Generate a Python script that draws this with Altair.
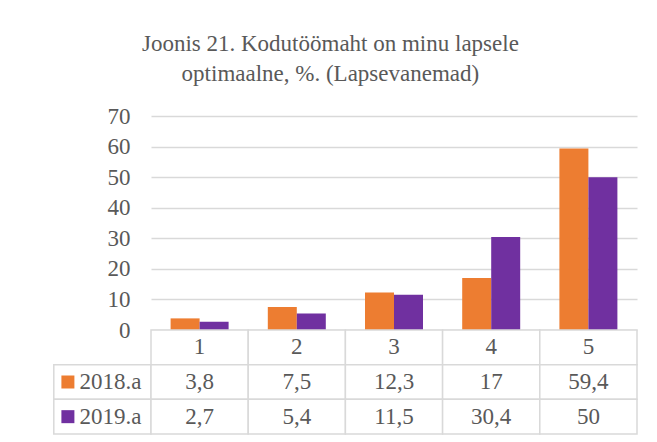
import altair as alt
import pandas as pd

# ---- data ----
categories = ["1", "2", "3", "4", "5"]
series = ["2018.a", "2019.a"]
values_2018 = [3.8, 7.5, 12.3, 17, 59.4]
values_2019 = [2.7, 5.4, 11.5, 30.4, 50]
y_ticks = [0, 10, 20, 30, 40, 50, 60, 70]
colors = ["#ED7D31", "#7030A0"]
title_lines = ["Joonis 21. Kodutöömaht on minu lapsele", "optimaalne, %. (Lapsevanemad)"]

FONT = "Times New Roman, Liberation Serif, DejaVu Serif, serif"
TEXT = "#595959"
GRID = "#d9d9d9"
FS = 23

W, H, TH = 486, 214, 104


def fmt(v):
    return f"{v:g}".replace(".", ",")


bar_rows = []
for s, vals in zip(series, [values_2018, values_2019]):
    for c, v in zip(categories, vals):
        bar_rows.append({"cat": c, "series": s, "value": v})
bar_df = pd.DataFrame(bar_rows)

# table cells
cell_rows = []
for c in categories:
    cell_rows.append({"col": c, "row": "hdr", "label": c, "kind": "hdr"})
for s, vals in zip(series, [values_2018, values_2019]):
    cell_rows.append({"col": "legend", "row": s, "label": s, "kind": "legend"})
    for c, v in zip(categories, vals):
        cell_rows.append({"col": c, "row": s, "label": fmt(v), "kind": "val"})
cell_df = pd.DataFrame(cell_rows)

color = alt.Color("series:N", scale=alt.Scale(domain=series, range=colors), legend=None)

bars = alt.Chart(bar_df).mark_bar().encode(
    x=alt.X("cat:N", scale=alt.Scale(domain=categories, paddingInner=0, paddingOuter=0), axis=None),
    xOffset=alt.XOffset("series:N", scale=alt.Scale(domain=series, paddingInner=0, paddingOuter=0.676)),
    y=alt.Y(
        "value:Q",
        scale=alt.Scale(domain=[0, 70], nice=False),
        axis=alt.Axis(
            values=y_ticks, title=None, domain=False, ticks=False, grid=True,
            gridColor=GRID, gridWidth=1.3, labelFont=FONT, labelFontSize=FS,
            labelColor=TEXT, labelPadding=21,
        ),
    ),
    color=color,
).properties(width=W, height=H)

cols = ["legend"] + categories
rows = ["hdr"] + series
xs = alt.Scale(domain=cols, range=[-W / 5, W], paddingInner=0, paddingOuter=0)
ys = alt.Scale(domain=rows, paddingInner=0, paddingOuter=0)

base = alt.Chart(cell_df).encode(
    x=alt.X("col:N", scale=xs, axis=None),
    y=alt.Y("row:N", scale=ys, axis=None),
)

cells = base.mark_rect(fill="white", stroke=GRID, strokeWidth=1.5)
texts = base.mark_text(font=FONT, fontSize=FS, color=TEXT, baseline="middle").encode(
    text="label:N"
).transform_filter(alt.datum.kind != "legend")
leg_text = base.mark_text(font=FONT, fontSize=FS, color=TEXT, baseline="middle", align="left", dx=-23).encode(
    text="label:N"
).transform_filter(alt.datum.kind == "legend")
leg_sq = base.mark_point(shape="square", filled=True, size=169, opacity=1, xOffset=-34.5).encode(
    color=alt.Color("label:N", scale=alt.Scale(domain=series, range=colors), legend=None)
).transform_filter(alt.datum.kind == "legend")

table = alt.layer(cells, texts, leg_text, leg_sq).properties(width=W, height=TH)

chart = alt.vconcat(bars, table, spacing=0, bounds="flush").properties(
    title=alt.TitleParams(
        title_lines, font=FONT, fontSize=FS, fontWeight="normal", color=TEXT,
        anchor="middle", lineHeight=30, offset=19, dx=-15,
    ),
    padding={"left": 45, "top": 25, "right": 5, "bottom": 5},
).configure_view(stroke=None)

chart.save("out.html", embed_options={"renderer": "svg", "actions": False})
